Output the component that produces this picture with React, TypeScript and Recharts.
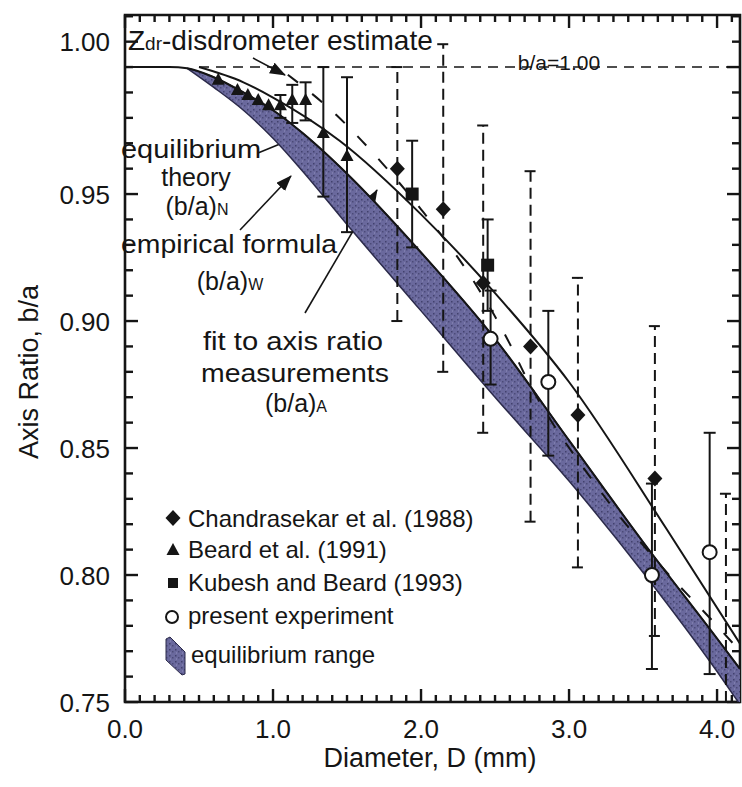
import React from "react";
import {
  ComposedChart,
  XAxis,
  YAxis,
  Line,
  Area,
  Scatter,
  ErrorBar,
  Customized,
} from "recharts";

const FONT = "'Liberation Sans', Arial, Helvetica, sans-serif";
const INK = "#151515";
const X_DOMAIN: [number, number] = [0, 4.155];
const Y_DOMAIN: [number, number] = [0.75, 1.0205];
const PLOT = { left: 125, right: 740, top: 15, bottom: 702 };

// ticks
const xMajor = [0, 1, 2, 3, 4];
const xMajorLabels = ["0.0", "1.0", "2.0", "3.0", "4.0"];
const xTicks = Array.from({ length: 42 }, (_, i) => i / 10);
const yLeftMajor = [0.75, 0.8, 0.85, 0.9, 0.95, 1.01];
const yLeftLabels = ["0.75", "0.80", "0.85", "0.90", "0.95", "1.00"];
const yRightMajor = [0.75, 0.8, 0.85, 0.9, 0.95, 1.0];
const yTicks = Array.from({ length: 28 }, (_, i) => (75 + i) / 100);

// equilibrium range (shaded band)
const bandD = [0.42, 0.6, 0.8, 1.0, 1.2, 1.5, 2.0, 2.5, 3.0, 3.5, 4.0, 4.155];
const bandLow = [0.9995, 0.992, 0.983, 0.972, 0.959, 0.938, 0.904, 0.87, 0.837, 0.801, 0.762, 0.749];
const bandHigh = [0.9995, 0.996, 0.99, 0.983, 0.974, 0.958, 0.927, 0.893, 0.853, 0.813, 0.775, 0.763];

// equilibrium theory (b/a)N
const eqD = [0, 0.3, 0.42, 0.6, 0.8, 1.0, 1.2, 1.5, 2.0, 2.5, 3.0, 3.5, 4.0, 4.155];
const eqVals = [1.0, 1.0, 0.9995, 0.996, 0.99, 0.983, 0.974, 0.958, 0.927, 0.893, 0.853, 0.813, 0.775, 0.763];

// fit to axis ratio measurements (b/a)A
const fitD = [0.5, 0.8, 1.0, 1.45, 2.0, 2.5, 3.0, 3.66, 4.155];
const fitVals = [1.0, 0.994, 0.988, 0.971, 0.942, 0.911, 0.876, 0.818, 0.773];

// Zdr-disdrometer estimate (dashed)
const zdrD = [1.1, 1.43, 1.74, 2.0, 2.33, 2.6, 2.7, 3.2, 3.6, 4.0, 4.155];
const zdrVals = [0.997, 0.981, 0.962, 0.944, 0.918, 0.891, 0.879, 0.834, 0.805, 0.78, 0.77];

// b/a = 1.00 reference
const unityD = [0.5, 4.155];
const unityVals = [1.0, 1.0];

// Chandrasekar et al. (1988)
const chD = [1.84, 2.15, 2.42, 2.74, 3.06, 3.58];
const chVals = [0.96, 0.944, 0.915, 0.89, 0.863, 0.838];
const chLow = [0.9, 0.88, 0.856, 0.821, 0.803, 0.776];
const chHigh = [1.0, 1.009, 0.977, 0.959, 0.917, 0.898];
// Chandrasekar bar whose point falls below the frame: visible span only
const chCutD = [4.06];
const chCutVals = [0.75];
const chCutHigh = [0.832];

// Beard et al. (1991)
const bD = [0.63, 0.76, 0.83, 0.9, 0.97];
const bVals = [0.995, 0.991, 0.989, 0.987, 0.985];
const bErrD = [1.05, 1.13, 1.22, 1.34, 1.5];
const bErrVals = [0.985, 0.987, 0.987, 0.974, 0.965];
const bErrLow = [0.98, 0.978, 0.979, 0.949, 0.935];
const bErrHigh = [0.989, 0.993, 0.994, 1.0, 0.996];

// Kubesh and Beard (1993)
const kD = [1.94, 2.45];
const kVals = [0.95, 0.922];
const kLow = [0.929, 0.904];
const kHigh = [0.971, 0.94];

// present experiment
const pD = [2.47, 2.86, 3.56, 3.95];
const pVals = [0.893, 0.876, 0.8, 0.809];
const pLow = [0.875, 0.847, 0.763, 0.761];
const pHigh = [0.912, 0.904, 0.836, 0.856];

const rows = (xs: number[], ys: number[]) => xs.map((x, i) => ({ x, y: ys[i] }));
const errRows = (xs: number[], ys: number[], lo: number[], hi: number[]) =>
  xs.map((x, i) => ({ x, y: ys[i], err: [ys[i] - lo[i], hi[i] - ys[i]] }));

const bandRows = bandD.map((x, i) => ({ x, range: [bandLow[i], bandHigh[i]] }));

const near = (v: number, list: number[]) => list.findIndex((m) => Math.abs(m - v) < 1e-6);
const sx = (d: number) => PLOT.left + ((d - X_DOMAIN[0]) / (X_DOMAIN[1] - X_DOMAIN[0])) * (PLOT.right - PLOT.left);
const sy = (v: number) => PLOT.bottom - ((v - Y_DOMAIN[0]) / (Y_DOMAIN[1] - Y_DOMAIN[0])) * (PLOT.bottom - PLOT.top);

function BottomTick(p: any) {
  const i = near(p.payload.value, xMajor);
  if (i < 0) return <g />;
  return (
    <text x={p.x} y={PLOT.bottom + 36} textAnchor="middle" fontSize={26} fontFamily={FONT} fill={INK}>
      {xMajorLabels[i]}
    </text>
  );
}

function LeftTick(p: any) {
  const i = near(p.payload.value, yLeftMajor);
  if (i < 0) return <g />;
  return (
    <text x={PLOT.left - 15} y={p.y + 9.5} textAnchor="end" fontSize={26} fontFamily={FONT} fill={INK}>
      {yLeftLabels[i]}
    </text>
  );
}

const Diamond = (p: any) => (
  <polygon points={`${p.cx},${p.cy - 8} ${p.cx + 7.5},${p.cy} ${p.cx},${p.cy + 8} ${p.cx - 7.5},${p.cy}`} fill={INK} />
);
const Triangle = (p: any) => (
  <polygon points={`${p.cx},${p.cy - 7} ${p.cx + 6.5},${p.cy + 5} ${p.cx - 6.5},${p.cy + 5}`} fill={INK} />
);
const Square = (p: any) => <rect x={p.cx - 6.5} y={p.cy - 6.5} width={13} height={13} fill={INK} />;
const Ring = (p: any) => <circle cx={p.cx} cy={p.cy} r={7} fill="#fff" stroke={INK} strokeWidth={2} />;
const NoMark = () => <g />;

const arrows = [
  { x1: 253, y1: 58, x2: 285, y2: 75 },
  { x1: 258, y1: 153, x2: 297, y2: 137 },
  { x1: 240, y1: 230, x2: 291, y2: 176 },
  { x1: 305, y1: 313, x2: 377, y2: 190 },
];

const txt = { fontFamily: FONT, fill: INK } as const;

// inward tick marks on all four sides, drawn as small filled bars
function tickBars() {
  const out: any[] = [];
  xTicks.forEach((t, i) => {
    const len = near(t, xMajor) >= 0 ? 13 : 7;
    const x = sx(t);
    out.push(<rect key={"xb" + i} x={x - 1.2} y={PLOT.bottom - len} width={2.4} height={len} fill={INK} />);
    out.push(<rect key={"xt" + i} x={x - 1.2} y={PLOT.top} width={2.4} height={len} fill={INK} />);
  });
  yTicks.forEach((t, i) => {
    const y = sy(t);
    const l = near(t, yLeftMajor) >= 0 ? 13 : 8;
    const r = near(t, yRightMajor) >= 0 ? 13 : 8;
    out.push(<rect key={"yl" + i} x={PLOT.left} y={y - 1.2} width={l} height={2.4} fill={INK} />);
    out.push(<rect key={"yr" + i} x={PLOT.right - r} y={y - 1.2} width={r} height={2.4} fill={INK} />);
  });
  return out;
}

function Overlay() {
  return (
    <g>
      <defs>
        <pattern id="bandTex" width={6} height={6} patternUnits="userSpaceOnUse">
          <rect width={6} height={6} fill="#6a699d" />
          <rect x={1} y={1} width={1.5} height={1.5} fill="#42416d" />
          <rect x={4} y={3} width={1.5} height={1.5} fill="#4b4a78" />
          <rect x={2} y={4.5} width={1} height={1} fill="#9290bd" />
        </pattern>
        <marker id="ah" markerUnits="userSpaceOnUse" markerWidth={16} markerHeight={12} refX={15} refY={6} orient="auto">
          <path d="M0,0 L16,6 L0,12 z" fill={INK} />
        </marker>
      </defs>

      {tickBars()}
      <path
        d={`M${PLOT.left},${PLOT.top}H${PLOT.right}V${PLOT.bottom}H${PLOT.left}Z`}
        stroke={INK}
        strokeWidth={2.6}
        fill="none"
      />

      {arrows.map((a, i) => (
        <line key={"a" + i} {...a} stroke={INK} strokeWidth={1.6} markerEnd="url(#ah)" />
      ))}
      <text x={128} y={50} fontSize={28} {...txt}>
        Z<tspan fontSize={19}>dr</tspan>-disdrometer estimate
      </text>
      <rect x={510} y={52} width={98} height={24} fill="#fff" />
      <text x={559} y={70} fontSize={21} textAnchor="middle" {...txt}>
        b/a=1.00
      </text>
      <text fontSize={25} textAnchor="middle" {...txt}>
        <tspan x={191} y={158} textLength={140} lengthAdjust="spacingAndGlyphs">equilibrium</tspan>
        <tspan x={196} y={186}>theory</tspan>
        <tspan x={197} y={215}>
          (b/a)<tspan fontSize={16}>N</tspan>
        </tspan>
      </text>
      <text fontSize={25} textAnchor="middle" {...txt}>
        <tspan x={229} y={253} textLength={216} lengthAdjust="spacingAndGlyphs">empirical formula</tspan>
        <tspan x={230} y={290}>
          (b/a)<tspan fontSize={16}>W</tspan>
        </tspan>
      </text>
      <text fontSize={25} textAnchor="middle" {...txt}>
        <tspan x={293} y={350} textLength={180} lengthAdjust="spacingAndGlyphs">fit to axis ratio</tspan>
        <tspan x={295} y={382} textLength={188} lengthAdjust="spacingAndGlyphs">measurements</tspan>
        <tspan x={296} y={412}>
          (b/a)<tspan fontSize={16}>A</tspan>
        </tspan>
      </text>

      {/* legend */}
      <polygon points="173,510 180.5,518 173,526 165.5,518" fill={INK} />
      <text x={188} y={527} fontSize={24} {...txt}>Chandrasekar et al. (1988)</text>
      <polygon points="173,543 179.5,555 166.5,555" fill={INK} />
      <text x={188} y={558} fontSize={24} {...txt}>Beard et al. (1991)</text>
      <rect x={168} y={578} width={10} height={10} fill={INK} />
      <text x={188} y={591} fontSize={24} {...txt}>Kubesh and Beard (1993)</text>
      <circle cx={172} cy={617} r={6} fill="#fff" stroke={INK} strokeWidth={2} />
      <text x={188} y={624} fontSize={24} {...txt}>present experiment</text>
      <polygon points="166,639 170,637 185,652 185,674 182,675 166,660" fill="url(#bandTex)" stroke="#2b2a4a" strokeWidth={1} />
      <text x={191} y={663} fontSize={24} {...txt}>equilibrium range</text>

      {/* axis titles */}
      <text x={430} y={767} fontSize={27} textAnchor="middle" {...txt}>Diameter, D (mm)</text>
      <text x={38} y={372} fontSize={27} textAnchor="middle" transform="rotate(-90 38 372)" {...txt}>
        Axis Ratio, b/a
      </text>
    </g>
  );
}

export default function App() {
  return (
    <div style={{ position: "absolute", left: 0, top: 0, width: 742, height: 787, background: "#fff" }}>
      <ComposedChart
        width={742}
        height={787}
        data={bandRows}
        margin={{ top: PLOT.top, right: 742 - PLOT.right, bottom: 0, left: 0 }}
      >
        <XAxis
          dataKey="x"
          type="number"
          domain={X_DOMAIN}
          allowDataOverflow
          ticks={xTicks}
          interval={0}
          tick={BottomTick}
          tickLine={false}
          axisLine={false}
          height={787 - PLOT.bottom}
        />
        <YAxis
          type="number"
          domain={Y_DOMAIN}
          allowDataOverflow
          ticks={yTicks}
          interval={0}
          tick={LeftTick}
          tickLine={false}
          axisLine={false}
          width={PLOT.left}
        />

        <Area
          dataKey="range"
          type="monotone"
          fill="url(#bandTex)"
          fillOpacity={1}
          stroke="#2b2a4a"
          strokeWidth={1.5}
          isAnimationActive={false}
        />
        <Line data={rows(unityD, unityVals)} dataKey="y" stroke={INK} strokeWidth={1.6} strokeDasharray="10 7" dot={false} isAnimationActive={false} />
        <Line data={rows(eqD, eqVals)} dataKey="y" type="monotone" stroke={INK} strokeWidth={2} dot={false} isAnimationActive={false} />
        <Line data={rows(fitD, fitVals)} dataKey="y" type="monotone" stroke={INK} strokeWidth={2} dot={false} isAnimationActive={false} />
        <Line data={rows(zdrD, zdrVals)} dataKey="y" type="monotone" stroke={INK} strokeWidth={2} strokeDasharray="13 18" dot={false} isAnimationActive={false} />

        <Scatter data={errRows(chD, chVals, chLow, chHigh)} dataKey="y" shape={Diamond} isAnimationActive={false}>
          <ErrorBar dataKey="err" direction="y" width={6} stroke={INK} strokeWidth={2} strokeDasharray="11 6" />
        </Scatter>
        <Scatter data={errRows(chCutD, chCutVals, chCutVals, chCutHigh)} dataKey="y" shape={NoMark} isAnimationActive={false}>
          <ErrorBar dataKey="err" direction="y" width={6} stroke={INK} strokeWidth={2} strokeDasharray="11 6" />
        </Scatter>
        <Scatter data={rows(bD, bVals)} dataKey="y" shape={Triangle} isAnimationActive={false} />
        <Scatter data={errRows(bErrD, bErrVals, bErrLow, bErrHigh)} dataKey="y" shape={Triangle} isAnimationActive={false}>
          <ErrorBar dataKey="err" direction="y" width={6} stroke={INK} strokeWidth={2} />
        </Scatter>
        <Scatter data={errRows(kD, kVals, kLow, kHigh)} dataKey="y" shape={Square} isAnimationActive={false}>
          <ErrorBar dataKey="err" direction="y" width={6} stroke={INK} strokeWidth={2} />
        </Scatter>
        <Scatter data={errRows(pD, pVals, pLow, pHigh)} dataKey="y" shape={Ring} isAnimationActive={false}>
          <ErrorBar dataKey="err" direction="y" width={6} stroke={INK} strokeWidth={2} />
        </Scatter>

        <Customized component={Overlay} />
      </ComposedChart>
    </div>
  );
}
